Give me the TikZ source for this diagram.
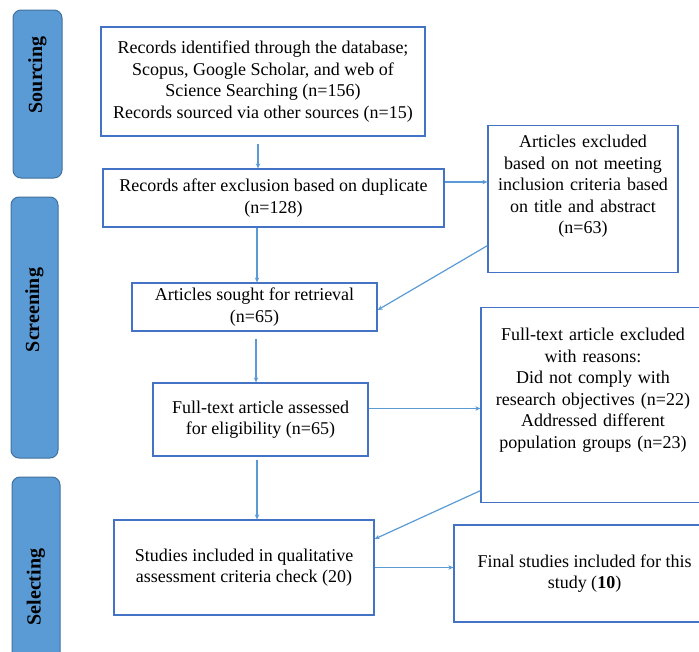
\documentclass[tikz,border=0pt]{standalone}
\usepackage{fontspec}
\setmainfont{Liberation Serif}
\usetikzlibrary{arrows.meta}
\definecolor{boxblue}{HTML}{4472C4}
\definecolor{arrblue}{HTML}{5B9BD5}
\definecolor{stagefill}{HTML}{5B9BD5}
\definecolor{stageline}{HTML}{41719C}
\tikzset{
	box/.style={draw=boxblue, line width=1.3pt, align=center, inner sep=3pt, font=\fontsize{18}{21.5}\selectfont},
	stage/.style={draw=stageline, fill=stagefill, line width=1pt, rounded corners=8pt},
	stagetext/.style={rotate=90, font=\fontsize{20}{24}\selectfont\bfseries},
	arr/.style={draw=arrblue, line width=1.2pt, -{Stealth[length=5pt,width=4.5pt]}},
}
\begin{document}
\begin{tikzpicture}[x=1pt, y=-1pt]
			\useasboundingbox (0,0) rectangle (699,651);
			\clip (0,0) rectangle (699,651);
			
			\node [stage, minimum width=49pt, minimum height=168pt](sourcing) at (37.5,94) {};
			\node [stage, minimum width=47pt, minimum height=261pt](screening) at (34.5,327.5) {};
			\node [stage, minimum width=48pt, minimum height=213pt](selecting) at (36,583.5) {};
			\node [stagetext](sourcinglbl) at (37.5,75) {Sourcing};
			\node [stagetext](screeninglbl) at (34.5,310) {Screening};
			\node [stagetext](selectinglbl) at (36,587) {Selecting};
			
			\node [box, minimum width=324pt, minimum height=109pt](src) at (263,81.5) {Records identified through the database;\\Scopus, Google Scholar, and web of\\Science Searching (n=156)\\Records sourced via other sources (n=15)};
			\node [box, minimum width=341pt, minimum height=58pt](dup) at (273.5,198) {Records after exclusion based on duplicate\\(n=128)};
			\node [box, anchor=north, text width=184pt, inner ysep=0pt, text height=22pt, text depth=125pt](excl) at (583,125) {Articles excluded\\based on not meeting\\inclusion criteria based\\on title and abstract\\(n=63)};
			\node [box, minimum width=245pt, minimum height=48pt](sought) at (254.5,307) {Articles sought for retrieval\\(n=65)};
			\node [box, minimum width=215pt, minimum height=73pt](full) at (260.5,419.5) {Full-text article assessed\\for eligibility (n=65)};
			\node [box, anchor=north, text width=218pt, inner ysep=0pt, text height=33pt, text depth=162pt](fullexcl) at (593,307) {Full-text article excluded\\with reasons:\\Did not comply with\\research objectives (n=22)\\Addressed different\\population groups (n=23)};
			\node [box, minimum width=260pt, minimum height=95pt](qual) at (244,567.5) {Studies included in qualitative\\assessment criteria check (20)};
			\node [box, minimum width=261pt, minimum height=97pt](final) at (584.5,573.5) {Final studies included for this\\study (\textbf{10})};
			
			\draw [arr, shorten <=7pt] ([xshift=-5pt]src.south) -- ([xshift=-5pt]src.south |- dup.north);
			\draw [arr] ([yshift=16pt]dup.east) -- ([yshift=16pt]dup.east -| excl.west);
			\draw [arr] ([xshift=-16.5pt]dup.south) -- ([xshift=-16.5pt]dup.south |- sought.north);
			\draw [arr] ([yshift=-46.5pt]excl.west) -- ([yshift=-3pt]sought.east);
			\draw [arr, shorten <=7pt] ([xshift=1.5pt]sought.south) -- ([xshift=1.5pt]sought.south |- full.north);
			\draw [arr] ([yshift=11pt]full.east) -- ([yshift=11pt]full.east -| fullexcl.west);
			\draw [arr, shorten <=3pt] ([xshift=-3.5pt]full.south) -- ([xshift=-3.5pt]full.south |- qual.north);
			\draw [arr] ([yshift=-85.5pt]fullexcl.west) -- ([yshift=28.5pt]qual.east);
			\draw [arr] (qual.east) -- (qual.east -| final.west);
\end{tikzpicture}
\end{document}
